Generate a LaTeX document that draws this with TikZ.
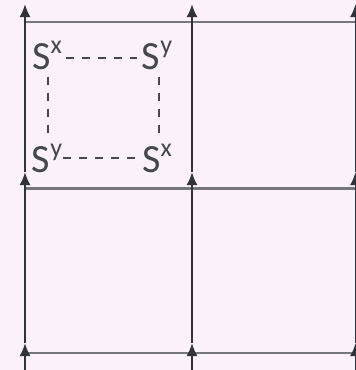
\documentclass[tikz,border=0pt]{standalone}
\usepackage{fontspec}
\setmainfont{Carlito}
\usetikzlibrary{arrows.meta}
\definecolor{bgpink}{RGB}{250,241,250}
\definecolor{gridgray}{RGB}{50,50,58}
\definecolor{linegray}{RGB}{118,118,124}
\definecolor{textgray}{RGB}{70,70,78}
\newcommand{\spinop}[1]{S\raisebox{16pt}{\fontsize{26}{26}\selectfont #1}}

\begin{document}
\begin{tikzpicture}[x=1pt,y=-1pt,
  uparrow/.style={gridgray,line width=2pt,-{Latex[length=13pt,width=11pt]}},
  spin/.style={textgray,inner sep=1pt,font=\fontsize{40}{40}\selectfont},
  bond/.style={textgray,line width=1.8pt,dash pattern=on 8pt off 8pt}]
\clip (0,0) rectangle (356,370); %Crops to the picture size
\fill[bgpink] (0,0) rectangle (356,370); %Background
\draw[linegray,line width=2.2pt] (26,22) -- (356,22); %Top rung
\draw[linegray,line width=3pt] (26,188) -- (356,188); %Middle rung
\draw[linegray,line width=2.2pt] (26,353) -- (356,353); %Bottom rung
\draw[uparrow] (25,370) -- (25,343); %Left leg
\draw[uparrow] (25,343) -- (25,172);
\draw[uparrow] (25,172) -- (25,4);
\draw[uparrow] (192,370) -- (192,343); %Middle leg
\draw[uparrow] (192,343) -- (192,172);
\draw[uparrow] (192,172) -- (192,4);
\draw[uparrow] (355.5,370) -- (355.5,343); %Right leg
\draw[uparrow] (355.5,343) -- (355.5,172);
\draw[uparrow] (355.5,172) -- (355.5,4);
\node[spin] (sxtop) at (47,55) {\spinop{x}}; %Plaquette spins
\node[spin] (sytop) at (157,55) {\spinop{y}};
\node[spin] (sybot) at (47,158) {\spinop{y}};
\node[spin] (sxbot) at (157,158) {\spinop{x}};
\draw[bond,shorten <=3pt,shorten >=4pt] ([yshift=-3pt]sxtop.east) -- ([yshift=-3pt]sytop.west);
\draw[bond] (sybot.east) -- (sxbot.west);
\draw[bond,shorten <=6pt,shorten >=6pt] ([xshift=1pt]sxtop.south) -- ([xshift=1pt]sybot.north);
\draw[bond,shorten <=6pt,shorten >=6pt] ([xshift=2pt]sytop.south) -- ([xshift=2pt]sxbot.north);
\end{tikzpicture}
\end{document}
